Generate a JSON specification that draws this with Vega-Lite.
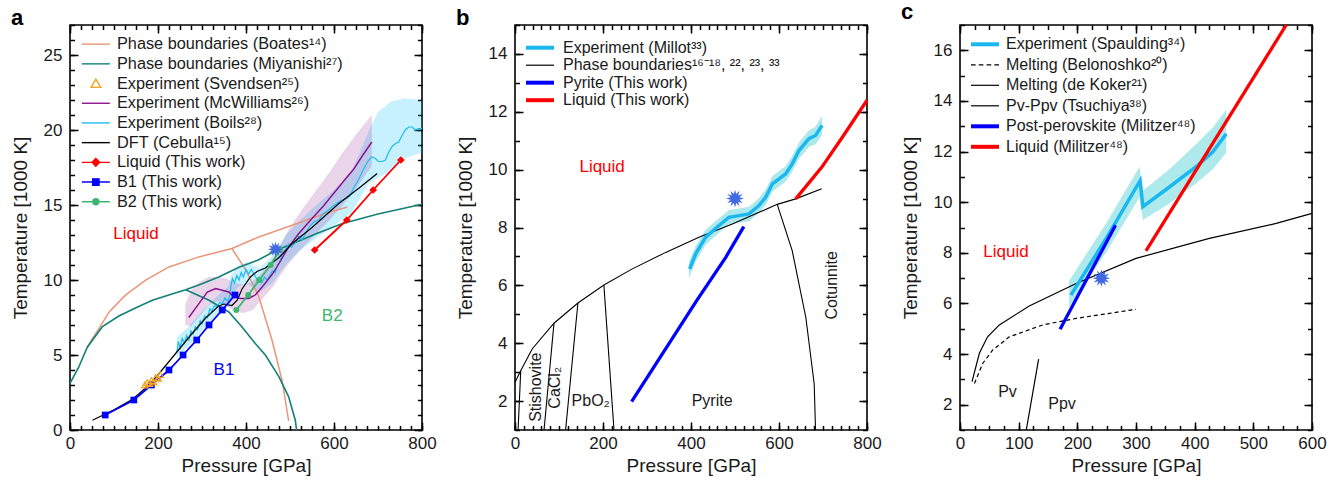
{
"$schema": "https://vega.github.io/schema/vega-lite/v6.json",
"padding": {"left": 10, "top": 0, "right": 0, "bottom": 0},
"background": "white",
"spacing": 18,
"resolve": {"scale": {"shape": "independent", "fill": "independent", "stroke": "independent"}, "legend": {"shape": "independent", "fill": "independent", "stroke": "independent"}},
"config": {
 "view": {"stroke": "#000000", "strokeWidth": 1.6},
 "font": "Liberation Sans",
 "axis": {"labelFont": "Liberation Sans", "titleFont": "Liberation Sans", "labelColor": "#1a1a1a", "titleColor": "#1a1a1a", "labelFontSize": 17, "titleFontSize": 19, "titleFontWeight": "normal", "grid": false, "domain": false, "tickColor": "#000000", "tickWidth": 1.5, "labelFlush": false, "labelOverlap": false},
 "title": {"font": "Liberation Sans", "fontSize": 22, "fontWeight": "bold", "anchor": "start", "frame": "bounds", "offset": -6, "color": "#000000"}
},
"datasets": {
 "boils": [{"p":243,"t":5.2},{"p":246,"t":5.9},{"p":250,"t":5.5},{"p":255,"t":6.1},{"p":260,"t":5.8},{"p":265,"t":6.3},{"p":270,"t":6.0},{"p":275,"t":6.6},{"p":280,"t":6.4},{"p":285,"t":6.9},{"p":290,"t":6.7},{"p":296,"t":7.3},{"p":300,"t":7.1},{"p":306,"t":7.6},{"p":312,"t":7.5},{"p":318,"t":8.1},{"p":322,"t":7.9},{"p":328,"t":8.3},{"p":334,"t":8.2},{"p":340,"t":8.5},{"p":346,"t":8.4},{"p":352,"t":8.8},{"p":358,"t":8.6},{"p":363,"t":8.9},{"p":366,"t":9.6},{"p":369,"t":10.1},{"p":374,"t":9.8},{"p":379,"t":10.3},{"p":384,"t":10.0},{"p":389,"t":10.5},{"p":394,"t":10.2},{"p":400,"t":10.7},{"p":406,"t":10.4},{"p":412,"t":10.7},{"p":418,"t":10.4},{"p":424,"t":10.1},{"p":430,"t":9.9},{"p":436,"t":9.8},{"p":442,"t":10.2},{"p":448,"t":10.0},{"p":454,"t":10.3},{"p":460,"t":10.6},{"p":466,"t":10.5},{"p":472,"t":11.0},{"p":478,"t":11.3},{"p":484,"t":11.8},{"p":490,"t":12.0},{"p":497,"t":12.4},{"p":504,"t":12.2},{"p":512,"t":12.5},{"p":520,"t":12.9},{"p":528,"t":12.7},{"p":535,"t":13.1},{"p":545,"t":13.6},{"p":555,"t":13.9},{"p":565,"t":14.0},{"p":575,"t":14.4},{"p":585,"t":14.6},{"p":596,"t":14.9},{"p":606,"t":15.1},{"p":616,"t":15.3},{"p":626,"t":15.4},{"p":636,"t":15.6},{"p":646,"t":16.2},{"p":656,"t":16.7},{"p":664,"t":17.2},{"p":671,"t":17.6},{"p":679,"t":18.0},{"p":686,"t":18.2},{"p":694,"t":18.1},{"p":701,"t":17.9},{"p":709,"t":17.9},{"p":717,"t":18.0},{"p":724,"t":18.5},{"p":732,"t":18.9},{"p":740,"t":19.1},{"p":747,"t":19.2},{"p":754,"t":19.6},{"p":762,"t":20.0},{"p":770,"t":20.2},{"p":777,"t":20.2},{"p":785,"t":20.0},{"p":792,"t":20.1},{"p":800,"t":20.1}],
 "boilsBand": [{"p":243,"lo":4.9,"hi":6.2},{"p":270,"lo":5.6,"hi":6.9},{"p":300,"lo":6.6,"hi":7.9},{"p":330,"lo":7.6,"hi":8.8},{"p":360,"lo":8.2,"hi":9.6},{"p":366,"lo":8.6,"hi":10.3},{"p":380,"lo":9.5,"hi":10.9},{"p":400,"lo":9.8,"hi":11.2},{"p":430,"lo":9.2,"hi":10.8},{"p":460,"lo":9.8,"hi":11.6},{"p":490,"lo":11.0,"hi":13.0},{"p":520,"lo":11.9,"hi":13.9},{"p":560,"lo":12.8,"hi":15.0},{"p":600,"lo":13.6,"hi":16.0},{"p":640,"lo":14.5,"hi":17.2},{"p":660,"lo":15.5,"hi":18.6},{"p":680,"lo":16.5,"hi":20.0},{"p":700,"lo":16.8,"hi":21.2},{"p":730,"lo":17.3,"hi":21.9},{"p":760,"lo":18.1,"hi":22.1},{"p":800,"lo":18.5,"hi":22.0}],
 "mcw": [{"p":270,"t":7.5},{"p":293,"t":8.43},{"p":312,"t":9.2},{"p":331,"t":9.43},{"p":346,"t":9.32},{"p":361,"t":9.2},{"p":372,"t":8.88},{"p":388,"t":8.77},{"p":406,"t":8.77},{"p":421,"t":9.0},{"p":433,"t":9.4},{"p":444,"t":9.8},{"p":460,"t":10.4},{"p":475,"t":11.1},{"p":497,"t":12.2},{"p":520,"t":13.1},{"p":550,"t":14.1},{"p":575,"t":14.9},{"p":600,"t":15.8},{"p":625,"t":16.7},{"p":645,"t":17.4},{"p":665,"t":18.3},{"p":686,"t":19.2}],
 "mcwBand": [{"p":262,"lo":7.0,"hi":8.4},{"p":275,"lo":6.9,"hi":9.3},{"p":295,"lo":7.6,"hi":9.9},{"p":315,"lo":8.3,"hi":10.2},{"p":335,"lo":8.6,"hi":10.2},{"p":355,"lo":8.3,"hi":10.1},{"p":375,"lo":7.9,"hi":9.8},{"p":395,"lo":7.8,"hi":9.7},{"p":415,"lo":8.0,"hi":9.9},{"p":430,"lo":8.5,"hi":10.3},{"p":445,"lo":9.0,"hi":10.8},{"p":460,"lo":9.5,"hi":11.4},{"p":480,"lo":10.4,"hi":12.4},{"p":500,"lo":11.2,"hi":13.5},{"p":530,"lo":12.2,"hi":14.8},{"p":560,"lo":13.1,"hi":16.0},{"p":590,"lo":14.0,"hi":17.2},{"p":620,"lo":15.0,"hi":18.5},{"p":650,"lo":16.1,"hi":19.7},{"p":686,"lo":17.6,"hi":21.0}],
 "boates": [{"s":1,"p":39,"t":5.54},{"s":1,"p":66,"t":6.77},{"s":1,"p":89,"t":7.87},{"s":1,"p":126,"t":8.99},{"s":1,"p":172,"t":9.99},{"s":1,"p":225,"t":10.87},{"s":1,"p":293,"t":11.54},{"s":1,"p":368,"t":12.1},{"s":1,"p":429,"t":12.87},{"s":1,"p":505,"t":13.65},{"s":1,"p":580,"t":14.43},{"s":1,"p":630,"t":14.87},
  {"s":2,"p":368,"t":12.1},{"s":2,"p":399,"t":10.7},{"s":2,"p":429,"t":8.9},{"s":2,"p":459,"t":6.0},{"s":2,"p":482,"t":3.3},{"s":2,"p":497,"t":0.6}],
 "miyanishi": [{"s":1,"p":0,"t":3.1},{"s":1,"p":1.5,"t":3.2},{"s":1,"p":20,"t":4.2},{"s":1,"p":39,"t":5.5},{"s":1,"p":73,"t":6.87},{"s":1,"p":111,"t":7.6},{"s":1,"p":150,"t":8.15},{"s":1,"p":187,"t":8.65},{"s":1,"p":230,"t":9.05},{"s":1,"p":263,"t":9.35},{"s":1,"p":300,"t":9.75},{"s":1,"p":338,"t":10.2},{"s":1,"p":384,"t":10.85},{"s":1,"p":429,"t":11.35},{"s":1,"p":467,"t":11.95},{"s":1,"p":520,"t":12.6},{"s":1,"p":565,"t":13.15},{"s":1,"p":618,"t":13.75},{"s":1,"p":700,"t":14.4},{"s":1,"p":800,"t":15.05},
  {"s":2,"p":263,"t":9.35},{"s":2,"p":316,"t":8.65},{"s":2,"p":361,"t":7.87},{"s":2,"p":391,"t":6.87},{"s":2,"p":421,"t":5.77},{"s":2,"p":444,"t":5.0},{"s":2,"p":475,"t":3.54},{"s":2,"p":497,"t":2.21},{"s":2,"p":512,"t":0.65},{"s":2,"p":515,"t":0}],
 "dft": [{"p":51,"t":0.65},{"p":100,"t":1.35},{"p":142,"t":2.05},{"p":170,"t":2.75},{"p":195,"t":3.5},{"p":240,"t":5.1},{"p":278,"t":6.45},{"p":308,"t":7.45},{"p":337,"t":8.25},{"p":350,"t":8.4},{"p":368,"t":8.3},{"p":380,"t":8.65},{"p":391,"t":9.4},{"p":410,"t":10.2},{"p":425,"t":10.57},{"p":444,"t":10.8},{"p":475,"t":11.5},{"p":505,"t":12.43},{"p":550,"t":13.5},{"p":611,"t":15.1},{"p":660,"t":16.2},{"p":698,"t":17.1}],
 "b1": [{"p":80,"t":1},{"p":145,"t":2},{"p":185,"t":3},{"p":225,"t":4},{"p":257,"t":5},{"p":288,"t":6},{"p":316,"t":7},{"p":346,"t":8},{"p":375,"t":9}],
 "b2": [{"p":378,"t":8},{"p":405,"t":9},{"p":430,"t":10},{"p":456,"t":11},{"p":477,"t":12}],
 "liqA": [{"p":556,"t":12},{"p":629,"t":14},{"p":689,"t":16},{"p":752,"t":18}],
 "svendsen": [{"p":170,"t":3.0},{"p":175,"t":3.15},{"p":180,"t":3.1},{"p":185,"t":3.3},{"p":190,"t":3.2},{"p":195,"t":3.5},{"p":200,"t":3.45},{"p":205,"t":3.7}],
 "millotBand": [{"p":395,"lo":6.25,"hi":6.8},{"p":410.6,"lo":6.82,"hi":7.36},{"p":433,"lo":7.4,"hi":7.92},{"p":463.6,"lo":7.82,"hi":8.32},{"p":486,"lo":8.1,"hi":8.6},{"p":509,"lo":8.16,"hi":8.66},{"p":532,"lo":8.22,"hi":8.72},{"p":554.5,"lo":8.5,"hi":9.02},{"p":570,"lo":8.78,"hi":9.32},{"p":585,"lo":9.24,"hi":9.78},{"p":600,"lo":9.42,"hi":9.95},{"p":615,"lo":9.58,"hi":10.12},{"p":630,"lo":9.93,"hi":10.47},{"p":645.5,"lo":10.38,"hi":10.94},{"p":668,"lo":10.78,"hi":11.36},{"p":683,"lo":10.88,"hi":11.48},{"p":698,"lo":11.2,"hi":11.86}],
 "millot": [{"p":397,"t":6.57},{"p":410.6,"t":7.09},{"p":433,"t":7.66},{"p":463.6,"t":8.07},{"p":486,"t":8.35},{"p":509,"t":8.41},{"p":532,"t":8.47},{"p":554.5,"t":8.76},{"p":570,"t":9.05},{"p":585,"t":9.51},{"p":600,"t":9.68},{"p":615,"t":9.85},{"p":630,"t":10.2},{"p":645.5,"t":10.66},{"p":668,"t":11.07},{"p":683,"t":11.18},{"p":698,"t":11.53}],
 "phaseB": [{"s":"m","p":0,"t":2.65},{"s":"m","p":13,"t":3.05},{"s":"m","p":39,"t":3.8},{"s":"m","p":88.6,"t":4.69},{"s":"m","p":143,"t":5.39},{"s":"m","p":202,"t":6.01},{"s":"m","p":266.6,"t":6.57},{"s":"m","p":342.5,"t":7.14},{"s":"m","p":418,"t":7.66},{"s":"m","p":494,"t":8.12},{"s":"m","p":596,"t":8.8},{"s":"m","p":638,"t":8.99},{"s":"m","p":697,"t":9.34},
  {"s":"v1","p":13,"t":3.05},{"s":"v1","p":7,"t":1},
  {"s":"v2","p":88.6,"t":4.69},{"s":"v2","p":66,"t":1},
  {"s":"v3","p":143,"t":5.39},{"s":"v3","p":115,"t":1},
  {"s":"v4","p":202,"t":6.01},{"s":"v4","p":225,"t":1},
  {"s":"v5","p":596,"t":8.8},{"s":"v5","p":630,"t":7.2},{"s":"v5","p":661,"t":4.89},{"s":"v5","p":680,"t":2.59},{"s":"v5","p":683,"t":1.0}],
 "pyrite": [{"p":265,"t":1.98},{"p":414,"t":5.5},{"p":479,"t":6.97},{"p":520,"t":8.03}],
 "liqB": [{"p":638,"t":8.99},{"p":697,"t":10.08},{"p":744,"t":11.12},{"p":800,"t":12.4}],
 "spauldingBand": [{"p":186,"lo":5.85,"hi":6.9},{"p":250,"lo":8.05,"hi":9.2},{"p":306,"lo":10.2,"hi":11.4},{"p":311.7,"lo":9.3,"hi":10.45},{"p":357,"lo":9.95,"hi":11.3},{"p":402.6,"lo":10.75,"hi":12.3},{"p":431,"lo":11.3,"hi":12.95},{"p":453.8,"lo":11.95,"hi":13.66}],
 "spaulding": [{"p":189,"t":6.33},{"p":250,"t":8.6},{"p":307,"t":10.85},{"p":311.7,"t":9.82},{"p":357,"t":10.6},{"p":402.6,"t":11.4},{"p":431,"t":11.99},{"p":453.8,"t":12.7}],
 "blackC": [{"s":"k","p":20.5,"t":2.91},{"s":"k","p":33,"t":4.03},{"s":"k","p":47,"t":4.68},{"s":"k","p":67,"t":5.15},{"s":"k","p":118,"t":5.9},{"s":"k","p":198,"t":6.79},{"s":"k","p":300,"t":7.78},{"s":"k","p":425,"t":8.57},{"s":"k","p":539,"t":9.16},{"s":"k","p":600,"t":9.56},
  {"s":"ts","p":113,"t":1},{"s":"ts","p":134,"t":3.8}],
 "belonoshko": [{"p":24.6,"t":2.84},{"p":38.7,"t":3.63},{"p":55.8,"t":4.16},{"p":84,"t":4.68},{"p":141,"t":5.15},{"p":198,"t":5.41},{"p":255,"t":5.61},{"p":300,"t":5.77}],
 "ppv": [{"p":170.6,"t":4.98},{"p":265,"t":9.09}],
 "liqC": [{"p":317,"t":8.08},{"p":556,"t":17.0}]
},
"hconcat": [
{
 "width": 352, "height": 405,
 "title": {"text": "a"},
 "resolve": {"axis": {"x": "independent", "y": "independent"}},
 "encoding": {
  "x": {"field": "p", "type": "quantitative", "scale": {"domain": [0, 800], "nice": false, "zero": false}, "axis": null},
  "y": {"field": "t", "type": "quantitative", "scale": {"domain": [0, 27], "nice": false, "zero": false}, "axis": null}
 },
 "layer": [
  {"data": {"name": "boilsBand"}, "mark": {"type": "area", "color": "#00BFFF", "opacity": 0.22}, "encoding": {"y": {"field": "lo", "type": "quantitative", "axis": null}, "y2": {"field": "hi"}}},
  {"data": {"name": "mcwBand"}, "mark": {"type": "area", "color": "#800080", "opacity": 0.17}, "encoding": {"y": {"field": "lo", "type": "quantitative", "axis": null}, "y2": {"field": "hi"}}},
  {"data": {"name": "boates"}, "mark": {"type": "line", "color": "#E9967A", "strokeWidth": 1.5}, "encoding": {"detail": {"field": "s"}}},
  {"data": {"name": "miyanishi"}, "mark": {"type": "line", "color": "#138078", "strokeWidth": 1.6}, "encoding": {"detail": {"field": "s"}}},
  {"data": {"name": "boils"}, "mark": {"type": "line", "color": "#1EBBF0", "strokeWidth": 1.2}, "encoding": {}},
  {"data": {"name": "mcw"}, "mark": {"type": "line", "color": "#8B108B", "strokeWidth": 1.4}, "encoding": {}},
  {"data": {"name": "dft"}, "mark": {"type": "line", "color": "#000000", "strokeWidth": 1.2}, "encoding": {}},
  {"data": {"name": "b1"}, "mark": {"type": "line", "color": "#0000FF", "strokeWidth": 1.8, "point": {"shape": "square", "size": 45, "filled": true, "color": "#0000FF", "opacity": 1}}, "encoding": {}},
  {"data": {"name": "b2"}, "mark": {"type": "line", "color": "#3DB56E", "strokeWidth": 1.8, "point": {"shape": "circle", "size": 35, "filled": true, "color": "#3DB56E", "opacity": 1}}, "encoding": {}},
  {"data": {"name": "liqA"}, "mark": {"type": "line", "color": "#FF0000", "strokeWidth": 1.8, "point": {"shape": "diamond", "size": 60, "filled": true, "color": "#FF0000", "opacity": 1}}, "encoding": {}},
  {"data": {"name": "svendsen"}, "mark": {"type": "point", "shape": "triangle-up", "size": 45, "filled": false, "color": "#F5A31A", "strokeWidth": 1.1, "opacity": 1}, "encoding": {}},
  {"data": {"values": [{"p": 467, "t": 12.05}]}, "mark": {"type": "point", "shape": "M1,0L0.5,0.134L0.866,0.5L0.354,0.354L0.5,0.866L0.134,0.5L0,1L-0.134,0.5L-0.5,0.866L-0.354,0.354L-0.866,0.5L-0.5,0.134L-1,0L-0.5,-0.134L-0.866,-0.5L-0.354,-0.354L-0.5,-0.866L-0.134,-0.5L0,-1L0.134,-0.5L0.5,-0.866L0.354,-0.354L0.866,-0.5L0.5,-0.134Z", "size": 240, "filled": true, "color": "#4169E1", "opacity": 1}, "encoding": {}},
  {"data": {"values": [{"p": 150, "t": 13.1, "label": "Liquid"}]}, "mark": {"type": "text", "color": "#FF0000", "fontSize": 17, "font": "Liberation Sans"}, "encoding": {"text": {"field": "label"}}},
  {"data": {"values": [{"p": 350, "t": 4.0, "label": "B1"}]}, "mark": {"type": "text", "color": "#0000FF", "fontSize": 17, "font": "Liberation Sans"}, "encoding": {"text": {"field": "label"}}},
  {"data": {"values": [{"p": 596, "t": 7.6, "label": "B2"}]}, "mark": {"type": "text", "color": "#3DB56E", "fontSize": 17, "font": "Liberation Sans"}, "encoding": {"text": {"field": "label"}}},
  {"data": {"values": [{"sa": "Phase boundaries (Boates¹⁴)"}, {"sa": "Phase boundaries (Miyanishi²⁷)"}, {"sa": "Experiment (Svendsen²⁵)"}, {"sa": "Experiment (McWilliams²⁶)"}, {"sa": "Experiment (Boils²⁸)"}, {"sa": "DFT (Cebulla¹⁵)"}, {"sa": "Liquid (This work)"}, {"sa": "B1 (This work)"}, {"sa": "B2 (This work)"}]},
   "mark": {"type": "point", "filled": true, "opacity": 1},
   "encoding": {
    "shape": {"field": "sa", "type": "nominal", "scale": {"domain": ["Phase boundaries (Boates¹⁴)", "Phase boundaries (Miyanishi²⁷)", "Experiment (Svendsen²⁵)", "Experiment (McWilliams²⁶)", "Experiment (Boils²⁸)", "DFT (Cebulla¹⁵)", "Liquid (This work)", "B1 (This work)", "B2 (This work)"], "range": ["M-3.5,0H3.5", "M-3.5,0H3.5", "M0,-1.1L1.2,0.95L-1.2,0.95Z", "M-3.5,0H3.5", "M-3.5,0H3.5", "M-3.5,0H3.5", "M-3.5,0H3.5M0,-0.95L0.95,0L0,0.95L-0.95,0Z", "M-3.5,0H3.5M-0.8,-0.8H0.8V0.8H-0.8Z", "M-3.5,0H3.5M-0.75,0A0.75,0.75,0,1,1,0.75,0A0.75,0.75,0,1,1,-0.75,0Z"]},
     "legend": {"orient": "none", "legendX": 11.7, "legendY": 11, "title": null, "symbolSize": 64, "symbolStrokeWidth": 1.4, "symbolOffset": 6, "labelOffset": 13, "labelFontSize": 16.3, "labelFont": "Liberation Sans", "labelColor": "#1a1a1a", "rowPadding": 2.7, "padding": 0, "labelLimit": 400}},
    "fill": {"field": "sa", "type": "nominal", "scale": {"domain": ["Phase boundaries (Boates¹⁴)", "Phase boundaries (Miyanishi²⁷)", "Experiment (Svendsen²⁵)", "Experiment (McWilliams²⁶)", "Experiment (Boils²⁸)", "DFT (Cebulla¹⁵)", "Liquid (This work)", "B1 (This work)", "B2 (This work)"], "range": ["transparent", "transparent", "transparent", "transparent", "transparent", "transparent", "#FF0000", "#0000FF", "#3DB56E"]},
     "legend": {"orient": "none", "legendX": 11.7, "legendY": 11, "title": null, "symbolSize": 64, "symbolStrokeWidth": 1.4, "symbolOffset": 6, "labelOffset": 13, "labelFontSize": 16.3, "labelFont": "Liberation Sans", "labelColor": "#1a1a1a", "rowPadding": 2.7, "padding": 0, "labelLimit": 400}},
    "stroke": {"field": "sa", "type": "nominal", "scale": {"domain": ["Phase boundaries (Boates¹⁴)", "Phase boundaries (Miyanishi²⁷)", "Experiment (Svendsen²⁵)", "Experiment (McWilliams²⁶)", "Experiment (Boils²⁸)", "DFT (Cebulla¹⁵)", "Liquid (This work)", "B1 (This work)", "B2 (This work)"], "range": ["#E9967A", "#138078", "#F5A31A", "#8B108B", "#1EBBF0", "#000000", "#FF0000", "#0000FF", "#3DB56E"]},
     "legend": {"orient": "none", "legendX": 11.7, "legendY": 11, "title": null, "symbolSize": 64, "symbolStrokeWidth": 1.4, "symbolOffset": 6, "labelOffset": 13, "labelFontSize": 16.3, "labelFont": "Liberation Sans", "labelColor": "#1a1a1a", "rowPadding": 2.7, "padding": 0, "labelLimit": 400}}
   }},
  {"data": {"values": [{}]}, "mark": {"type": "point", "opacity": 0}, "encoding": {
   "x": {"field": "p", "type": "quantitative", "scale": {"domain": [0, 800], "nice": false, "zero": false}, "axis": {"orient": "bottom", "values": [0, 200, 400, 600, 800], "ticks": false, "labelPadding": 5, "title": "Pressure [GPa]", "titlePadding": 5}},
   "y": {"field": "t", "type": "quantitative", "scale": {"domain": [0, 27], "nice": false, "zero": false}, "axis": {"orient": "left", "values": [0, 5, 10, 15, 20, 25], "ticks": false, "labelPadding": 8, "title": "Temperature [1000 K]", "titlePadding": 13}}}},
  {"data": {"values": [{}]}, "mark": {"type": "point", "opacity": 0}, "encoding": {
   "x": {"field": "p", "type": "quantitative", "scale": {"domain": [0, 800], "nice": false, "zero": false}, "axis": {"orient": "bottom", "values": [0, 200, 400, 600, 800], "labels": false, "tickSize": 8, "offset": -8, "title": null}},
   "y": {"field": "t", "type": "quantitative", "scale": {"domain": [0, 27], "nice": false, "zero": false}, "axis": {"orient": "left", "values": [0, 5, 10, 15, 20, 25], "labels": false, "tickSize": 8, "offset": -8, "title": null}}}},
  {"data": {"values": [{}]}, "mark": {"type": "point", "opacity": 0}, "encoding": {
   "x": {"field": "p", "type": "quantitative", "scale": {"domain": [0, 800], "nice": false, "zero": false}, "axis": {"orient": "bottom", "values": [0,25,50,75,100,125,150,175,200,225,250,275,300,325,350,375,400,425,450,475,500,525,550,575,600,625,650,675,700,725,750,775,800], "labels": false, "tickSize": 4.5, "offset": -4.5, "title": null}},
   "y": {"field": "t", "type": "quantitative", "scale": {"domain": [0, 27], "nice": false, "zero": false}, "axis": {"orient": "left", "values": [0,1,2,3,4,5,6,7,8,9,10,11,12,13,14,15,16,17,18,19,20,21,22,23,24,25,26,27], "labels": false, "tickSize": 4.5, "offset": -4.5, "title": null}}}},
  {"data": {"values": [{}]}, "mark": {"type": "point", "opacity": 0}, "encoding": {
   "x": {"field": "p", "type": "quantitative", "scale": {"domain": [0, 800], "nice": false, "zero": false}, "axis": {"orient": "top", "values": [0, 200, 400, 600, 800], "labels": false, "tickSize": 8, "offset": -8, "title": null}},
   "y": {"field": "t", "type": "quantitative", "scale": {"domain": [0, 27], "nice": false, "zero": false}, "axis": {"orient": "right", "values": [0, 5, 10, 15, 20, 25], "labels": false, "tickSize": 8, "offset": -8, "title": null}}}},
  {"data": {"values": [{}]}, "mark": {"type": "point", "opacity": 0}, "encoding": {
   "x": {"field": "p", "type": "quantitative", "scale": {"domain": [0, 800], "nice": false, "zero": false}, "axis": {"orient": "top", "values": [0,25,50,75,100,125,150,175,200,225,250,275,300,325,350,375,400,425,450,475,500,525,550,575,600,625,650,675,700,725,750,775,800], "labels": false, "tickSize": 4.5, "offset": -4.5, "title": null}},
   "y": {"field": "t", "type": "quantitative", "scale": {"domain": [0, 27], "nice": false, "zero": false}, "axis": {"orient": "right", "values": [0,1,2,3,4,5,6,7,8,9,10,11,12,13,14,15,16,17,18,19,20,21,22,23,24,25,26,27], "labels": false, "tickSize": 4.5, "offset": -4.5, "title": null}}}}
 ]
},
{
 "width": 352, "height": 405,
 "title": {"text": "b"},
 "resolve": {"axis": {"x": "independent", "y": "independent"}},
 "encoding": {
  "x": {"field": "p", "type": "quantitative", "scale": {"domain": [0, 800], "nice": false, "zero": false}, "axis": null},
  "y": {"field": "t", "type": "quantitative", "scale": {"domain": [1, 15], "nice": false, "zero": false}, "axis": null}
 },
 "layer": [
  {"data": {"name": "millotBand"}, "mark": {"type": "area", "color": "#ADE8EC", "opacity": 1}, "encoding": {"y": {"field": "lo", "type": "quantitative", "axis": null}, "y2": {"field": "hi"}}},
  {"data": {"name": "phaseB"}, "mark": {"type": "line", "color": "#000000", "strokeWidth": 1.1}, "encoding": {"detail": {"field": "s"}}},
  {"data": {"name": "millot"}, "mark": {"type": "line", "color": "#1BB8EF", "strokeWidth": 3.5}, "encoding": {}},
  {"data": {"name": "pyrite"}, "mark": {"type": "line", "color": "#0000FF", "strokeWidth": 3.3}, "encoding": {}},
  {"data": {"name": "liqB"}, "mark": {"type": "line", "color": "#FF0000", "strokeWidth": 3.3}, "encoding": {}},
  {"data": {"values": [{"p": 500, "t": 9.0}]}, "mark": {"type": "point", "shape": "M1,0L0.5,0.134L0.866,0.5L0.354,0.354L0.5,0.866L0.134,0.5L0,1L-0.134,0.5L-0.5,0.866L-0.354,0.354L-0.866,0.5L-0.5,0.134L-1,0L-0.5,-0.134L-0.866,-0.5L-0.354,-0.354L-0.5,-0.866L-0.134,-0.5L0,-1L0.134,-0.5L0.5,-0.866L0.354,-0.354L0.866,-0.5L0.5,-0.134Z", "size": 320, "filled": true, "color": "#4169E1", "opacity": 1}, "encoding": {}},
  {"data": {"values": [{"p": 198, "t": 10.08, "label": "Liquid"}]}, "mark": {"type": "text", "color": "#FF0000", "fontSize": 17, "font": "Liberation Sans"}, "encoding": {"text": {"field": "label"}}},
  {"data": {"values": [{"p": 172, "t": 2.0, "label": "PbO₂"}, {"p": 448, "t": 2.0, "label": "Pyrite"}]}, "mark": {"type": "text", "color": "#1a1a1a", "fontSize": 16, "font": "Liberation Sans"}, "encoding": {"text": {"field": "label"}}},
  {"data": {"values": [{"p": 47, "t": 2.48, "label": "Stishovite"}, {"p": 92, "t": 2.46, "label": "CaCl₂"}, {"p": 721, "t": 6.0, "label": "Cotunnite"}]}, "mark": {"type": "text", "color": "#1a1a1a", "fontSize": 16, "angle": 270, "font": "Liberation Sans"}, "encoding": {"text": {"field": "label"}}},
  {"data": {"values": [{"sb": "Experiment (Millot³³)"}, {"sb": "Phase boundaries¹⁶⁻¹⁸, ²², ²³, ³³"}, {"sb": "Pyrite (This work)"}, {"sb": "Liquid (This work)"}]},
   "mark": {"type": "point", "filled": true, "opacity": 1},
   "encoding": {
    "shape": {"field": "sb", "type": "nominal", "scale": {"domain": ["Experiment (Millot³³)", "Phase boundaries¹⁶⁻¹⁸, ²², ²³, ³³", "Pyrite (This work)", "Liquid (This work)"], "range": ["M-3.5,-0.5H3.5V0.5H-3.5Z", "M-3.5,0H3.5", "M-3.5,-0.5H3.5V0.5H-3.5Z", "M-3.5,-0.5H3.5V0.5H-3.5Z"]},
     "legend": {"orient": "none", "legendX": 11, "legendY": 14.7, "title": null, "symbolSize": 64, "symbolStrokeWidth": 1.2, "symbolOffset": 6, "labelOffset": 15, "labelFontSize": 16, "labelFont": "Liberation Sans", "labelColor": "#1a1a1a", "rowPadding": 1.5, "padding": 0, "labelLimit": 400}},
    "fill": {"field": "sb", "type": "nominal", "scale": {"domain": ["Experiment (Millot³³)", "Phase boundaries¹⁶⁻¹⁸, ²², ²³, ³³", "Pyrite (This work)", "Liquid (This work)"], "range": ["#1BB8EF", "transparent", "#0000FF", "#FF0000"]},
     "legend": {"orient": "none", "legendX": 11, "legendY": 14.7, "title": null, "symbolSize": 64, "symbolStrokeWidth": 1.2, "symbolOffset": 6, "labelOffset": 15, "labelFontSize": 16, "labelFont": "Liberation Sans", "labelColor": "#1a1a1a", "rowPadding": 1.5, "padding": 0, "labelLimit": 400}},
    "stroke": {"field": "sb", "type": "nominal", "scale": {"domain": ["Experiment (Millot³³)", "Phase boundaries¹⁶⁻¹⁸, ²², ²³, ³³", "Pyrite (This work)", "Liquid (This work)"], "range": ["transparent", "#000000", "transparent", "transparent"]},
     "legend": {"orient": "none", "legendX": 11, "legendY": 14.7, "title": null, "symbolSize": 64, "symbolStrokeWidth": 1.2, "symbolOffset": 6, "labelOffset": 15, "labelFontSize": 16, "labelFont": "Liberation Sans", "labelColor": "#1a1a1a", "rowPadding": 1.5, "padding": 0, "labelLimit": 400}}
   }},
  {"data": {"values": [{}]}, "mark": {"type": "point", "opacity": 0}, "encoding": {
   "x": {"field": "p", "type": "quantitative", "scale": {"domain": [0, 800], "nice": false, "zero": false}, "axis": {"orient": "bottom", "values": [0, 200, 400, 600, 800], "ticks": false, "labelPadding": 5, "title": "Pressure [GPa]", "titlePadding": 5}},
   "y": {"field": "t", "type": "quantitative", "scale": {"domain": [1, 15], "nice": false, "zero": false}, "axis": {"orient": "left", "values": [2, 4, 6, 8, 10, 12, 14], "ticks": false, "labelPadding": 8, "title": "Temperature [1000 K]", "titlePadding": 13}}}},
  {"data": {"values": [{}]}, "mark": {"type": "point", "opacity": 0}, "encoding": {
   "x": {"field": "p", "type": "quantitative", "scale": {"domain": [0, 800], "nice": false, "zero": false}, "axis": {"orient": "bottom", "values": [0, 200, 400, 600, 800], "labels": false, "tickSize": 8, "offset": -8, "title": null}},
   "y": {"field": "t", "type": "quantitative", "scale": {"domain": [1, 15], "nice": false, "zero": false}, "axis": {"orient": "left", "values": [2, 4, 6, 8, 10, 12, 14], "labels": false, "tickSize": 8, "offset": -8, "title": null}}}},
  {"data": {"values": [{}]}, "mark": {"type": "point", "opacity": 0}, "encoding": {
   "x": {"field": "p", "type": "quantitative", "scale": {"domain": [0, 800], "nice": false, "zero": false}, "axis": {"orient": "bottom", "values": [0,20,40,60,80,100,120,140,160,180,200,220,240,260,280,300,320,340,360,380,400,420,440,460,480,500,520,540,560,580,600,620,640,660,680,700,720,740,760,780,800], "labels": false, "tickSize": 4.5, "offset": -4.5, "title": null}},
   "y": {"field": "t", "type": "quantitative", "scale": {"domain": [1, 15], "nice": false, "zero": false}, "axis": {"orient": "left", "values": [1,2,3,4,5,6,7,8,9,10,11,12,13,14,15], "labels": false, "tickSize": 4.5, "offset": -4.5, "title": null}}}},
  {"data": {"values": [{}]}, "mark": {"type": "point", "opacity": 0}, "encoding": {
   "x": {"field": "p", "type": "quantitative", "scale": {"domain": [0, 800], "nice": false, "zero": false}, "axis": {"orient": "top", "values": [0, 200, 400, 600, 800], "labels": false, "tickSize": 8, "offset": -8, "title": null}},
   "y": {"field": "t", "type": "quantitative", "scale": {"domain": [1, 15], "nice": false, "zero": false}, "axis": {"orient": "right", "values": [2, 4, 6, 8, 10, 12, 14], "labels": false, "tickSize": 8, "offset": -8, "title": null}}}},
  {"data": {"values": [{}]}, "mark": {"type": "point", "opacity": 0}, "encoding": {
   "x": {"field": "p", "type": "quantitative", "scale": {"domain": [0, 800], "nice": false, "zero": false}, "axis": {"orient": "top", "values": [0,20,40,60,80,100,120,140,160,180,200,220,240,260,280,300,320,340,360,380,400,420,440,460,480,500,520,540,560,580,600,620,640,660,680,700,720,740,760,780,800], "labels": false, "tickSize": 4.5, "offset": -4.5, "title": null}},
   "y": {"field": "t", "type": "quantitative", "scale": {"domain": [1, 15], "nice": false, "zero": false}, "axis": {"orient": "right", "values": [1,2,3,4,5,6,7,8,9,10,11,12,13,14,15], "labels": false, "tickSize": 4.5, "offset": -4.5, "title": null}}}}
 ]
},
{
 "width": 352, "height": 405,
 "title": {"text": "c"},
 "resolve": {"axis": {"x": "independent", "y": "independent"}},
 "encoding": {
  "x": {"field": "p", "type": "quantitative", "scale": {"domain": [0, 600], "nice": false, "zero": false}, "axis": null},
  "y": {"field": "t", "type": "quantitative", "scale": {"domain": [1, 17], "nice": false, "zero": false}, "axis": null}
 },
 "layer": [
  {"data": {"name": "spauldingBand"}, "mark": {"type": "area", "color": "#AEEAEC", "opacity": 1}, "encoding": {"y": {"field": "lo", "type": "quantitative", "axis": null}, "y2": {"field": "hi"}}},
  {"data": {"name": "blackC"}, "mark": {"type": "line", "color": "#000000", "strokeWidth": 1.2}, "encoding": {"detail": {"field": "s"}}},
  {"data": {"name": "belonoshko"}, "mark": {"type": "line", "color": "#000000", "strokeWidth": 1.2, "strokeDash": [4, 3]}, "encoding": {}},
  {"data": {"name": "spaulding"}, "mark": {"type": "line", "color": "#1BB8EF", "strokeWidth": 3.5}, "encoding": {}},
  {"data": {"name": "ppv"}, "mark": {"type": "line", "color": "#0000FF", "strokeWidth": 3.3}, "encoding": {}},
  {"data": {"name": "liqC"}, "mark": {"type": "line", "color": "#FF0000", "strokeWidth": 3.3}, "encoding": {}},
  {"data": {"values": [{"p": 241, "t": 7.0}]}, "mark": {"type": "point", "shape": "M1,0L0.5,0.134L0.866,0.5L0.354,0.354L0.5,0.866L0.134,0.5L0,1L-0.134,0.5L-0.5,0.866L-0.354,0.354L-0.866,0.5L-0.5,0.134L-1,0L-0.5,-0.134L-0.866,-0.5L-0.354,-0.354L-0.5,-0.866L-0.134,-0.5L0,-1L0.134,-0.5L0.5,-0.866L0.354,-0.354L0.866,-0.5L0.5,-0.134Z", "size": 320, "filled": true, "color": "#4169E1", "opacity": 1}, "encoding": {}},
  {"data": {"values": [{"p": 78.5, "t": 8.04, "label": "Liquid"}]}, "mark": {"type": "text", "color": "#FF0000", "fontSize": 17, "font": "Liberation Sans"}, "encoding": {"text": {"field": "label"}}},
  {"data": {"values": [{"p": 81, "t": 2.51, "label": "Pv"}, {"p": 174, "t": 2.03, "label": "Ppv"}]}, "mark": {"type": "text", "color": "#1a1a1a", "fontSize": 16, "font": "Liberation Sans"}, "encoding": {"text": {"field": "label"}}},
  {"data": {"values": [{"sc": "Experiment (Spaulding³⁴)"}, {"sc": "Melting (Belonoshko²⁰)"}, {"sc": "Melting (de Koker²¹)"}, {"sc": "Pv-Ppv (Tsuchiya³⁸)"}, {"sc": "Post-perovskite (Militzer⁴⁸)"}, {"sc": "Liquid (Militzer⁴⁸)"}]},
   "mark": {"type": "point", "filled": true, "opacity": 1},
   "encoding": {
    "shape": {"field": "sc", "type": "nominal", "scale": {"domain": ["Experiment (Spaulding³⁴)", "Melting (Belonoshko²⁰)", "Melting (de Koker²¹)", "Pv-Ppv (Tsuchiya³⁸)", "Post-perovskite (Militzer⁴⁸)", "Liquid (Militzer⁴⁸)"], "range": ["M-3.5,-0.5H3.5V0.5H-3.5Z", "M-3.5,0H-2.35M-1.55,0H-0.4M0.4,0H1.55M2.35,0H3.5", "M-3.5,0H3.5", "M-3.5,0H3.5", "M-3.5,-0.5H3.5V0.5H-3.5Z", "M-3.5,-0.5H3.5V0.5H-3.5Z"]},
     "legend": {"orient": "none", "legendX": 11, "legendY": 11.3, "title": null, "symbolSize": 64, "symbolStrokeWidth": 1.2, "symbolOffset": 6, "labelOffset": 13, "labelFontSize": 16, "labelFont": "Liberation Sans", "labelColor": "#1a1a1a", "rowPadding": 4.5, "padding": 0, "labelLimit": 400}},
    "fill": {"field": "sc", "type": "nominal", "scale": {"domain": ["Experiment (Spaulding³⁴)", "Melting (Belonoshko²⁰)", "Melting (de Koker²¹)", "Pv-Ppv (Tsuchiya³⁸)", "Post-perovskite (Militzer⁴⁸)", "Liquid (Militzer⁴⁸)"], "range": ["#1BB8EF", "transparent", "transparent", "transparent", "#0000FF", "#FF0000"]},
     "legend": {"orient": "none", "legendX": 11, "legendY": 11.3, "title": null, "symbolSize": 64, "symbolStrokeWidth": 1.2, "symbolOffset": 6, "labelOffset": 13, "labelFontSize": 16, "labelFont": "Liberation Sans", "labelColor": "#1a1a1a", "rowPadding": 4.5, "padding": 0, "labelLimit": 400}},
    "stroke": {"field": "sc", "type": "nominal", "scale": {"domain": ["Experiment (Spaulding³⁴)", "Melting (Belonoshko²⁰)", "Melting (de Koker²¹)", "Pv-Ppv (Tsuchiya³⁸)", "Post-perovskite (Militzer⁴⁸)", "Liquid (Militzer⁴⁸)"], "range": ["transparent", "#000000", "#000000", "#000000", "transparent", "transparent"]},
     "legend": {"orient": "none", "legendX": 11, "legendY": 11.3, "title": null, "symbolSize": 64, "symbolStrokeWidth": 1.2, "symbolOffset": 6, "labelOffset": 13, "labelFontSize": 16, "labelFont": "Liberation Sans", "labelColor": "#1a1a1a", "rowPadding": 4.5, "padding": 0, "labelLimit": 400}}
   }},
  {"data": {"values": [{}]}, "mark": {"type": "point", "opacity": 0}, "encoding": {
   "x": {"field": "p", "type": "quantitative", "scale": {"domain": [0, 600], "nice": false, "zero": false}, "axis": {"orient": "bottom", "values": [0, 100, 200, 300, 400, 500, 600], "ticks": false, "labelPadding": 5, "title": "Pressure [GPa]", "titlePadding": 5}},
   "y": {"field": "t", "type": "quantitative", "scale": {"domain": [1, 17], "nice": false, "zero": false}, "axis": {"orient": "left", "values": [2, 4, 6, 8, 10, 12, 14, 16], "ticks": false, "labelPadding": 8, "title": "Temperature [1000 K]", "titlePadding": 13}}}},
  {"data": {"values": [{}]}, "mark": {"type": "point", "opacity": 0}, "encoding": {
   "x": {"field": "p", "type": "quantitative", "scale": {"domain": [0, 600], "nice": false, "zero": false}, "axis": {"orient": "bottom", "values": [0, 100, 200, 300, 400, 500, 600], "labels": false, "tickSize": 8, "offset": -8, "title": null}},
   "y": {"field": "t", "type": "quantitative", "scale": {"domain": [1, 17], "nice": false, "zero": false}, "axis": {"orient": "left", "values": [2, 4, 6, 8, 10, 12, 14, 16], "labels": false, "tickSize": 8, "offset": -8, "title": null}}}},
  {"data": {"values": [{}]}, "mark": {"type": "point", "opacity": 0}, "encoding": {
   "x": {"field": "p", "type": "quantitative", "scale": {"domain": [0, 600], "nice": false, "zero": false}, "axis": {"orient": "bottom", "values": [0,25,50,75,100,125,150,175,200,225,250,275,300,325,350,375,400,425,450,475,500,525,550,575,600], "labels": false, "tickSize": 4.5, "offset": -4.5, "title": null}},
   "y": {"field": "t", "type": "quantitative", "scale": {"domain": [1, 17], "nice": false, "zero": false}, "axis": {"orient": "left", "values": [1,2,3,4,5,6,7,8,9,10,11,12,13,14,15,16,17], "labels": false, "tickSize": 4.5, "offset": -4.5, "title": null}}}},
  {"data": {"values": [{}]}, "mark": {"type": "point", "opacity": 0}, "encoding": {
   "x": {"field": "p", "type": "quantitative", "scale": {"domain": [0, 600], "nice": false, "zero": false}, "axis": {"orient": "top", "values": [0, 100, 200, 300, 400, 500, 600], "labels": false, "tickSize": 8, "offset": -8, "title": null}},
   "y": {"field": "t", "type": "quantitative", "scale": {"domain": [1, 17], "nice": false, "zero": false}, "axis": {"orient": "right", "values": [2, 4, 6, 8, 10, 12, 14, 16], "labels": false, "tickSize": 8, "offset": -8, "title": null}}}},
  {"data": {"values": [{}]}, "mark": {"type": "point", "opacity": 0}, "encoding": {
   "x": {"field": "p", "type": "quantitative", "scale": {"domain": [0, 600], "nice": false, "zero": false}, "axis": {"orient": "top", "values": [0,25,50,75,100,125,150,175,200,225,250,275,300,325,350,375,400,425,450,475,500,525,550,575,600], "labels": false, "tickSize": 4.5, "offset": -4.5, "title": null}},
   "y": {"field": "t", "type": "quantitative", "scale": {"domain": [1, 17], "nice": false, "zero": false}, "axis": {"orient": "right", "values": [1,2,3,4,5,6,7,8,9,10,11,12,13,14,15,16,17], "labels": false, "tickSize": 4.5, "offset": -4.5, "title": null}}}}
 ]
}
]
}
